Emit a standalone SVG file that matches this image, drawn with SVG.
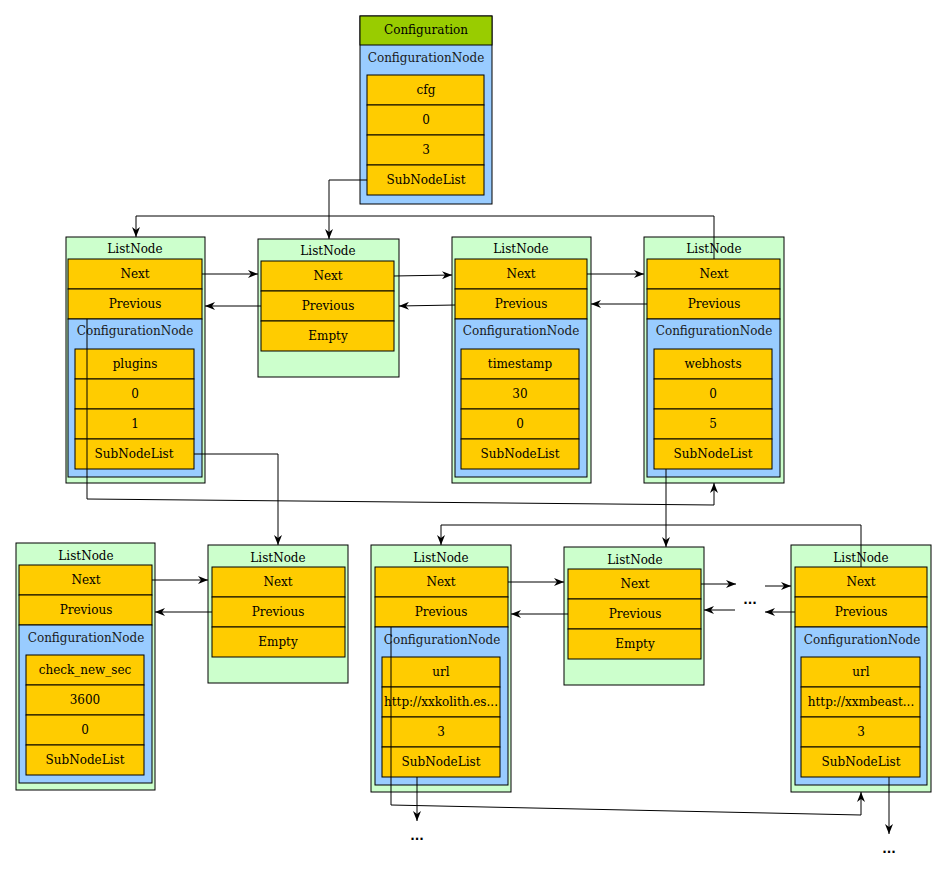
<svg xmlns="http://www.w3.org/2000/svg" width="946" height="881" viewBox="0 0 946 881">
<defs>
<style>
.ln{fill:#CCFFCC;stroke:#000;stroke-width:1}
.bl{fill:#99CCFF;stroke:#000;stroke-width:1}
.ye{fill:#FFCC00;stroke:#000;stroke-width:1}
.gh{fill:#99CC00;stroke:#000;stroke-width:1}
.t{font-family:"DejaVu Serif",serif;font-size:12px;fill:#000;text-anchor:middle}
.tb{font-family:"DejaVu Serif",serif;font-size:12px;fill:#1a1a1a;text-anchor:middle}
.dots{font-family:"DejaVu Sans",sans-serif;font-size:12px;font-weight:bold;fill:#000;text-anchor:middle}
.c{fill:none;stroke:#000;stroke-width:1}
.ca{fill:none;stroke:#000;stroke-width:1;marker-end:url(#arr)}
</style>
<marker id="arr" markerUnits="userSpaceOnUse" markerWidth="10" markerHeight="8" refX="10" refY="4" orient="auto">
<path d="M0,0 L10,4 L0,8 L3,4 Z" fill="#000"/>
</marker>
</defs>
<rect width="946" height="881" fill="#fff"/>

<g id="configuration">
<rect class="bl" x="360" y="16" width="132" height="188"/>
<rect class="gh" x="360" y="16" width="132" height="29"/>
<text class="t" x="426" y="34">Configuration</text>
<text class="tb" x="426" y="62">ConfigurationNode</text>
<rect class="ye" x="367" y="75" width="117" height="30"/>
<rect class="ye" x="367" y="105" width="117" height="30"/>
<rect class="ye" x="367" y="135" width="117" height="30"/>
<rect class="ye" x="367" y="165" width="117" height="30"/>
<text class="t" x="426" y="94">cfg</text>
<text class="t" x="426" y="124">0</text>
<text class="t" x="426" y="154">3</text>
<text class="t" x="426" y="184">SubNodeList</text>
</g>

<g id="listnode-plugins">
<rect class="ln" x="66" y="237" width="139" height="246"/>
<text class="t" x="135" y="253">ListNode</text>
<rect class="ye" x="68" y="259" width="134" height="30"/>
<rect class="ye" x="68" y="289" width="134" height="30"/>
<text class="t" x="135" y="278">Next</text>
<text class="t" x="135" y="308">Previous</text>
<rect class="bl" x="68" y="319" width="134" height="158"/>
<text class="tb" x="135" y="335">ConfigurationNode</text>
<rect class="ye" x="75" y="349" width="119" height="30"/>
<rect class="ye" x="75" y="379" width="119" height="30"/>
<rect class="ye" x="75" y="409" width="119" height="30"/>
<rect class="ye" x="75" y="439" width="119" height="30"/>
<text class="t" x="135" y="368">plugins</text>
<text class="t" x="135" y="398">0</text>
<text class="t" x="135" y="428">1</text>
<text class="t" x="134" y="458">SubNodeList</text>
</g>

<g id="listnode-empty-1">
<rect class="ln" x="258" y="239" width="141" height="138"/>
<text class="t" x="328" y="255">ListNode</text>
<rect class="ye" x="261" y="261" width="133" height="30"/>
<rect class="ye" x="261" y="291" width="133" height="30"/>
<rect class="ye" x="261" y="321" width="133" height="30"/>
<text class="t" x="328" y="280">Next</text>
<text class="t" x="328" y="310">Previous</text>
<text class="t" x="328" y="340">Empty</text>
</g>

<g id="listnode-timestamp">
<rect class="ln" x="452" y="237" width="139" height="246"/>
<text class="t" x="521" y="253">ListNode</text>
<rect class="ye" x="455" y="259" width="132" height="30"/>
<rect class="ye" x="455" y="289" width="132" height="30"/>
<text class="t" x="521" y="278">Next</text>
<text class="t" x="521" y="308">Previous</text>
<rect class="bl" x="455" y="319" width="132" height="158"/>
<text class="tb" x="521" y="335">ConfigurationNode</text>
<rect class="ye" x="461" y="349" width="118" height="30"/>
<rect class="ye" x="461" y="379" width="118" height="30"/>
<rect class="ye" x="461" y="409" width="118" height="30"/>
<rect class="ye" x="461" y="439" width="118" height="30"/>
<text class="t" x="520" y="368">timestamp</text>
<text class="t" x="520" y="398">30</text>
<text class="t" x="520" y="428">0</text>
<text class="t" x="520" y="458">SubNodeList</text>
</g>

<g id="listnode-webhosts">
<rect class="ln" x="644" y="237" width="140" height="246"/>
<text class="t" x="714" y="253">ListNode</text>
<rect class="ye" x="647" y="259" width="133" height="30"/>
<rect class="ye" x="647" y="289" width="133" height="30"/>
<text class="t" x="714" y="278">Next</text>
<text class="t" x="714" y="308">Previous</text>
<rect class="bl" x="647" y="319" width="133" height="158"/>
<text class="tb" x="714" y="335">ConfigurationNode</text>
<rect class="ye" x="654" y="349" width="118" height="30"/>
<rect class="ye" x="654" y="379" width="118" height="30"/>
<rect class="ye" x="654" y="409" width="118" height="30"/>
<rect class="ye" x="654" y="439" width="118" height="30"/>
<text class="t" x="713" y="368">webhosts</text>
<text class="t" x="713" y="398">0</text>
<text class="t" x="713" y="428">5</text>
<text class="t" x="713" y="458">SubNodeList</text>
</g>

<g id="listnode-check">
<rect class="ln" x="16" y="543" width="139" height="247"/>
<text class="t" x="86" y="560">ListNode</text>
<rect class="ye" x="19" y="565" width="133" height="30"/>
<rect class="ye" x="19" y="595" width="133" height="30"/>
<text class="t" x="86" y="584">Next</text>
<text class="t" x="86" y="614">Previous</text>
<rect class="bl" x="19" y="625" width="133" height="158"/>
<text class="tb" x="86" y="642">ConfigurationNode</text>
<rect class="ye" x="26" y="655" width="118" height="30"/>
<rect class="ye" x="26" y="685" width="118" height="30"/>
<rect class="ye" x="26" y="715" width="118" height="30"/>
<rect class="ye" x="26" y="745" width="118" height="30"/>
<text class="t" x="85" y="674">check_new_sec</text>
<text class="t" x="85" y="704">3600</text>
<text class="t" x="85" y="734">0</text>
<text class="t" x="85" y="764">SubNodeList</text>
</g>

<g id="listnode-empty-2">
<rect class="ln" x="208" y="545" width="140" height="138"/>
<text class="t" x="278" y="562">ListNode</text>
<rect class="ye" x="212" y="567" width="133" height="30"/>
<rect class="ye" x="212" y="597" width="133" height="30"/>
<rect class="ye" x="212" y="627" width="133" height="30"/>
<text class="t" x="278" y="586">Next</text>
<text class="t" x="278" y="616">Previous</text>
<text class="t" x="278" y="646">Empty</text>
</g>

<g id="listnode-url-1">
<rect class="ln" x="371" y="545" width="140" height="247"/>
<text class="t" x="441" y="562">ListNode</text>
<rect class="ye" x="375" y="567" width="133" height="30"/>
<rect class="ye" x="375" y="597" width="133" height="30"/>
<text class="t" x="441" y="586">Next</text>
<text class="t" x="441" y="616">Previous</text>
<rect class="bl" x="375" y="627" width="133" height="158"/>
<text class="tb" x="442" y="644">ConfigurationNode</text>
<rect class="ye" x="382" y="657" width="118" height="30"/>
<rect class="ye" x="382" y="687" width="118" height="30"/>
<rect class="ye" x="382" y="717" width="118" height="30"/>
<rect class="ye" x="382" y="747" width="118" height="30"/>
<text class="t" x="441" y="676">url</text>
<text class="t" x="441" y="706">http://xxkolith.es...</text>
<text class="t" x="441" y="736">3</text>
<text class="t" x="441" y="766">SubNodeList</text>
</g>

<g id="listnode-empty-3">
<rect class="ln" x="564" y="547" width="140" height="138"/>
<text class="t" x="635" y="564">ListNode</text>
<rect class="ye" x="568" y="569" width="133" height="30"/>
<rect class="ye" x="568" y="599" width="133" height="30"/>
<rect class="ye" x="568" y="629" width="133" height="30"/>
<text class="t" x="635" y="588">Next</text>
<text class="t" x="635" y="618">Previous</text>
<text class="t" x="635" y="648">Empty</text>
</g>

<g id="listnode-url-2">
<rect class="ln" x="791" y="545" width="140" height="247"/>
<text class="t" x="861" y="562">ListNode</text>
<rect class="ye" x="795" y="567" width="132" height="30"/>
<rect class="ye" x="795" y="597" width="132" height="30"/>
<text class="t" x="861" y="586">Next</text>
<text class="t" x="861" y="616">Previous</text>
<rect class="bl" x="795" y="627" width="132" height="158"/>
<text class="tb" x="862" y="644">ConfigurationNode</text>
<rect class="ye" x="801" y="657" width="119" height="30"/>
<rect class="ye" x="801" y="687" width="119" height="30"/>
<rect class="ye" x="801" y="717" width="119" height="30"/>
<rect class="ye" x="801" y="747" width="119" height="30"/>
<text class="t" x="861" y="676">url</text>
<text class="t" x="861" y="706">http://xxmbeast...</text>
<text class="t" x="861" y="736">3</text>
<text class="t" x="861" y="766">SubNodeList</text>
</g>

<g id="ellipses">
<text class="dots" x="750" y="604">...</text>
<text class="dots" x="417" y="840">...</text>
<text class="dots" x="889" y="853">...</text>
</g>

<g id="connectors">
<path class="ca" d="M367,180 H329 V239"/>
<path class="ca" d="M714,259 V216 H136 V237"/>
<path class="ca" d="M202,274 H258"/>
<path class="ca" d="M261,306 H205"/>
<path class="ca" d="M394,276 L452,275"/>
<path class="ca" d="M455,305 L399,306"/>
<path class="ca" d="M587,274 H644"/>
<path class="ca" d="M647,304 H591"/>
<path class="ca" d="M87,319 V499 L714,505 V483"/>
<path class="ca" d="M194,454 H278 V545"/>
<path class="ca" d="M666,469 V547"/>
<path class="ca" d="M861,567 V525 H441 V545"/>
<path class="ca" d="M152,580 H208"/>
<path class="ca" d="M212,612 H155"/>
<path class="ca" d="M508,582 H564"/>
<path class="ca" d="M568,614 H511"/>
<path class="ca" d="M701,584 H736"/>
<path class="ca" d="M765,586 H791"/>
<path class="ca" d="M795,612 H765"/>
<path class="ca" d="M735,610 H704"/>
<path class="ca" d="M391,627 V805 L861,815 V792"/>
<path class="ca" d="M417,777 V821"/>
<path class="ca" d="M889,777 V834"/>
</g>
</svg>
